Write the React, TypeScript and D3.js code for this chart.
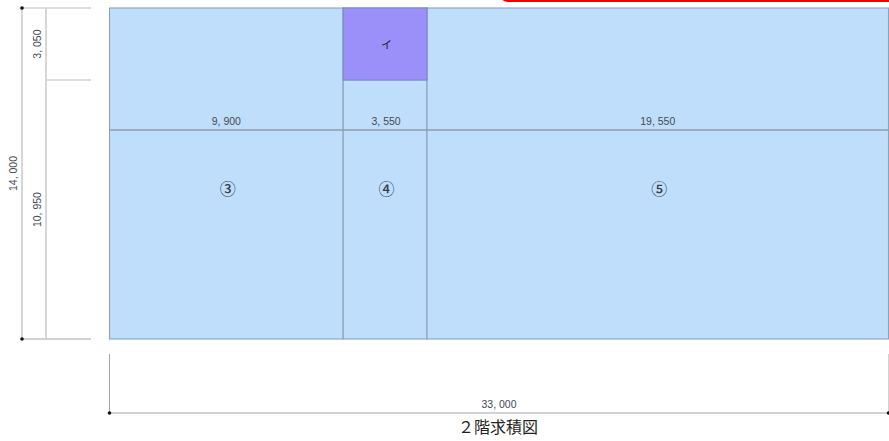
import * as d3 from "d3";

const WIDTH = 889;
const HEIGHT = 441;

// building size in mm
const TOTAL_W = 33000;
const TOTAL_H = 14000;

const widths = [9900, 3550, 19550];
const widthLabels = ["9, 900", "3, 550", "19, 550"];
const zoneLabels = ["③", "④", "⑤"];
const heights = [3050, 10950];
const heightLabels = ["3, 050", "10, 950"];
const totalHLabel = "14, 000";
const totalWLabel = "33, 000";
const title = "２階求積図";
const subZoneLabel = "イ";

// mm positions of the inner dimension line and the zone numbers
const DIM_Y = 5160;
const ZONE_Y = 7730;

const GRAY = "#a6a6a6";
const LIGHT = "#d2d2d2";
const EDGE = "#8ba2b8";
const TEXT = "#444b55";
const LABEL_FONT = "'Liberation Sans', sans-serif";

const x = d3.scaleLinear().domain([0, TOTAL_W]).range([109.5, 888.5]);
const y = d3.scaleLinear().domain([0, TOTAL_H]).range([8, 339]);

function Dot({ cx, cy }: { cx: number; cy: number }) {
  return <circle cx={cx} cy={cy} r={1.8} fill="#111" />;
}

function App() {
  const xEdges = d3.cumsum([0, ...widths]);
  const yEdges = d3.cumsum([0, ...heights]);

  const zones = widths.map((w, i) => {
    const x0 = x(xEdges[i]);
    const x1 = x(xEdges[i + 1]);
    return (
      <rect
        key={i}
        x={x0}
        y={y(0)}
        width={x1 - x0}
        height={y(TOTAL_H) - y(0)}
        fill="#bfdefc"
        stroke={EDGE}
        strokeWidth={1.1}
      />
    );
  });

  const zoneTexts = widths.map((w, i) => {
    const xm = (x(xEdges[i]) + x(xEdges[i + 1])) / 2;
    return (
      <g key={i}>
        <text
          x={xm + (i === 1 ? 1 : 0)}
          y={y(DIM_Y) - 7.5}
          textAnchor="middle"
          dominantBaseline="middle"
          fontSize={10.5}
          fontFamily={LABEL_FONT}
          fill={TEXT}
        >
          {widthLabels[i]}
        </text>
        <text
          x={xm + 1.5}
          y={y(ZONE_Y)}
          textAnchor="middle"
          dominantBaseline="middle"
          fontSize={16}
          fontWeight={500}
          fontFamily="'Noto Sans CJK JP'"
          fill="#36404a"
        >
          {zoneLabels[i]}
        </text>
      </g>
    );
  });

  return (
    <svg
      width={WIDTH}
      height={HEIGHT}
      style={{ position: "absolute", left: 0, top: 0, background: "#fff" }}
    >
      {/* red box cut off at the top */}
      <rect x={499} y={-20} width={420} height={22} rx={9} fill="#f00000" />

      {zones}
      <rect
        x={x(xEdges[1])}
        y={y(0)}
        width={x(xEdges[2]) - x(xEdges[1])}
        height={y(yEdges[1]) - y(0)}
        fill="#9b8ff9"
        stroke="#7f84cc"
        strokeWidth={1.1}
      />
      <text
        x={(x(xEdges[1]) + x(xEdges[2])) / 2 + 1.5}
        y={y(1620)}
        textAnchor="middle"
        dominantBaseline="middle"
        fontSize={11}
        fontFamily="'Noto Sans CJK JP'"
        fill="#222"
      >
        {subZoneLabel}
      </text>

      {/* inner dimension line */}
      <line x1={x(0)} x2={x(TOTAL_W)} y1={y(DIM_Y)} y2={y(DIM_Y)} stroke="#8b9cad" strokeWidth={1.4} />
      {xEdges.map((d, i) => (
        <Dot key={i} cx={x(d)} cy={y(DIM_Y)} />
      ))}
      {zoneTexts}

      {/* left dimension lines */}
      <line x1={22} x2={91} y1={y(0)} y2={y(0)} stroke={LIGHT} strokeWidth={1.5} />
      <line x1={22} x2={91} y1={y(TOTAL_H)} y2={y(TOTAL_H)} stroke={GRAY} strokeWidth={1} />
      <line x1={46} x2={91} y1={y(yEdges[1])} y2={y(yEdges[1])} stroke={LIGHT} strokeWidth={1.5} />
      <line x1={22} x2={22} y1={y(0)} y2={y(TOTAL_H)} stroke={LIGHT} strokeWidth={1.8} />
      <line x1={46} x2={46} y1={y(0)} y2={y(TOTAL_H)} stroke={LIGHT} strokeWidth={1.8} />
      <Dot cx={22} cy={y(0)} />
      <Dot cx={22} cy={y(TOTAL_H)} />
      {yEdges.map((d, i) => (
        <Dot key={i} cx={46} cy={y(d)} />
      ))}
      {heights.map((h, i) => {
        const ym = (y(yEdges[i]) + y(yEdges[i + 1])) / 2;
        return (
          <text
            key={i}
            transform={`translate(38.5,${ym}) rotate(-90)`}
            textAnchor="middle"
            dominantBaseline="middle"
            fontSize={10.5}
            fontFamily={LABEL_FONT}
            fill={TEXT}
          >
            {heightLabels[i]}
          </text>
        );
      })}
      <text
        transform={`translate(14.5,${(y(0) + y(TOTAL_H)) / 2}) rotate(-90)`}
        textAnchor="middle"
        dominantBaseline="middle"
        fontSize={10.5}
        fontFamily={LABEL_FONT}
        fill={TEXT}
      >
        {totalHLabel}
      </text>

      {/* bottom dimension line */}
      <line x1={x(0)} x2={x(0)} y1={354} y2={413} stroke={GRAY} strokeWidth={1} />
      <line x1={x(TOTAL_W)} x2={x(TOTAL_W)} y1={354} y2={413} stroke={LIGHT} strokeWidth={1} />
      <line x1={x(0)} x2={x(TOTAL_W)} y1={413} y2={413} stroke={GRAY} strokeWidth={1} />
      <Dot cx={x(0)} cy={413} />
      <Dot cx={x(TOTAL_W)} cy={413} />
      <text
        x={(x(0) + x(TOTAL_W)) / 2}
        y={405}
        textAnchor="middle"
        dominantBaseline="middle"
        fontSize={10.5}
        fontFamily={LABEL_FONT}
        fill={TEXT}
      >
        {totalWLabel}
      </text>

      <text
        x={498}
        y={429}
        textAnchor="middle"
        dominantBaseline="middle"
        fontSize={16}
        fontFamily="'Noto Sans CJK JP'"
        fill="#222"
      >
        {title}
      </text>
    </svg>
  );
}

export default App;
